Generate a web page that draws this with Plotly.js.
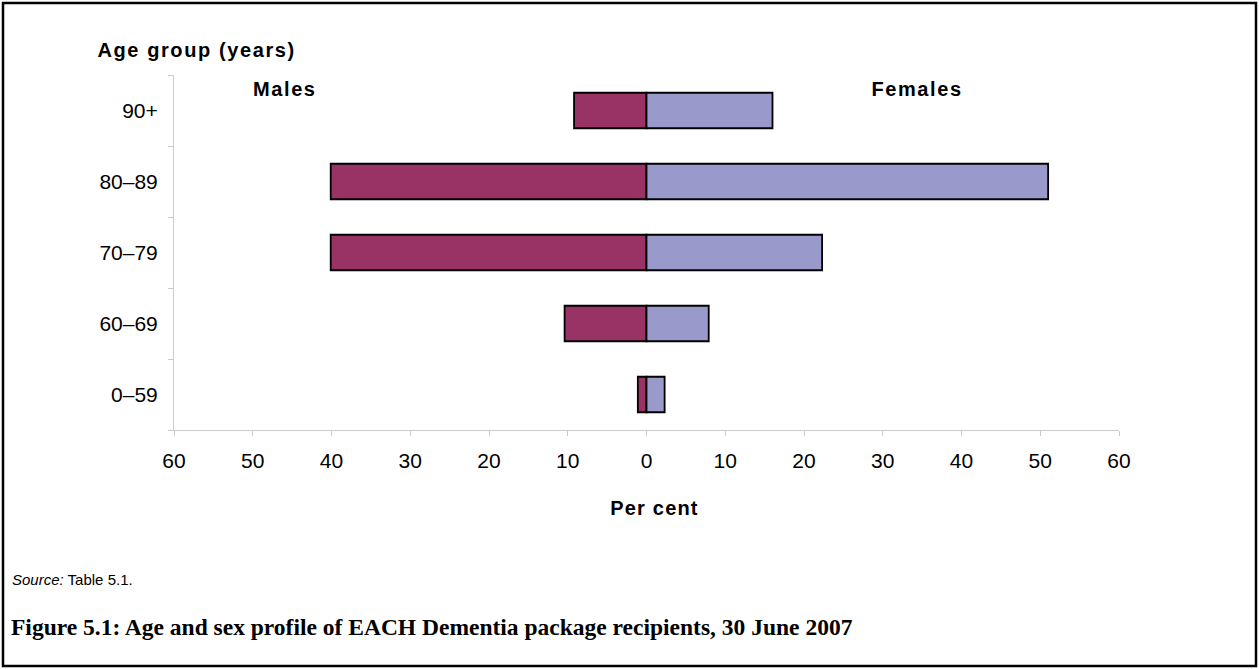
<!DOCTYPE html>
<html>
<head>
<meta charset="utf-8">
<script src="https://cdn.plot.ly/plotly-3.0.1.min.js"></script>
<style>
html,body{margin:0;padding:0;background:#fff;}
#chart{width:1259px;height:669px;}
g.annotation[data-index="0"] text,
g.annotation[data-index="1"] text,
g.annotation[data-index="2"] text{letter-spacing:1.6px;}
g.annotation[data-index="3"] text{letter-spacing:1.2px;}
</style>
</head>
<body>
<div id="chart"></div>
<script>
// Data (per cent)
const ageGroups = ['0–59', '60–69', '70–79', '80–89', '90+'];
const malesPct = [1.1, 10.4, 40.1, 40.1, 9.2];
const femalesPct = [2.3, 7.9, 22.3, 51.0, 16.0];
const tickValues = [-60, -50, -40, -30, -20, -10, 0, 10, 20, 30, 40, 50, 60];
const tickLabels = ['60', '50', '40', '30', '20', '10', '0', '10', '20', '30', '40', '50', '60'];

const W = 1259, H = 669;
const M = {l: 174, r: 140, t: 75, b: 239};
const PW = W - M.l - M.r, PH = H - M.t - M.b;
const fx = p => (p - M.l) / PW;
const fy = p => (H - M.b - p) / PH;

const SANS = 'Liberation Sans, Arial, sans-serif';
const SERIF = 'Liberation Serif, Times New Roman, serif';

const traces = [
  {
    type: 'bar', orientation: 'h', name: 'Males',
    y: ageGroups, x: malesPct.map(v => -v),
    marker: {color: '#993366', line: {color: '#000', width: 1.8}},
    hoverinfo: 'skip'
  },
  {
    type: 'bar', orientation: 'h', name: 'Females',
    y: ageGroups, x: femalesPct,
    marker: {color: '#9999CC', line: {color: '#000', width: 1.8}},
    hoverinfo: 'skip'
  }
];

const ann = (text, x, y, size, opts) => Object.assign({
  text: text, xref: 'paper', yref: 'paper', x: fx(x), y: fy(y),
  xanchor: 'left', yanchor: 'middle', showarrow: false,
  font: {family: SANS, size: size, color: '#000'}
}, opts || {});

const layout = {
  width: W, height: H,
  margin: M,
  paper_bgcolor: '#fff', plot_bgcolor: '#fff',
  showlegend: false,
  barmode: 'relative',
  bargap: 0.5,
  xaxis: {
    range: [-60, 60], tickmode: 'array', tickvals: tickValues, ticktext: tickLabels,
    showgrid: false, zeroline: false, showline: true, linecolor: '#cccccc', linewidth: 1,
    ticks: 'outside', ticklen: 5, tickcolor: '#cccccc', tickwidth: 1,
    tickfont: {family: SANS, size: 21, color: '#000'},
    ticklabelstandoff: 7, fixedrange: true
  },
  yaxis: {
    type: 'category', categoryorder: 'array', categoryarray: ageGroups,
    range: [-0.5, 4.5],
    showgrid: false, zeroline: false, showline: true, linecolor: '#cccccc', linewidth: 1,
    ticks: 'outside', ticklen: 5, tickcolor: '#cccccc', tickwidth: 1, tickson: 'boundaries',
    tickfont: {family: SANS, size: 21, color: '#000'},
    ticklabelstandoff: 11, fixedrange: true
  },
  annotations: [
    ann('<b>Age group (years)</b>', 108.5, 50, 20),
    ann('<b>Males</b>', 255, 89, 20),
    ann('<b>Females</b>', 874.5, 89, 20),
    ann('<b>Per cent</b>', 654, 508, 20, {xanchor: 'center'}),
    ann('<i>Source:</i> Table 5.1.', 10, 579, 15),
    ann('<b>Figure 5.1: Age and sex profile of EACH Dementia package recipients, 30 June 2007</b>', 9, 627, 23.5,
        {font: {family: SERIF, size: 23.5, color: '#000'}})
  ],
  shapes: [
    {type: 'rect', xref: 'paper', yref: 'paper', x0: fx(3), x1: fx(1256), y0: fy(666), y1: fy(3),
     line: {color: '#000', width: 2.5}, fillcolor: 'rgba(0,0,0,0)', layer: 'above'}
  ]
};

Plotly.newPlot('chart', traces, layout, {displayModeBar: false, staticPlot: true});
</script>
</body>
</html>
